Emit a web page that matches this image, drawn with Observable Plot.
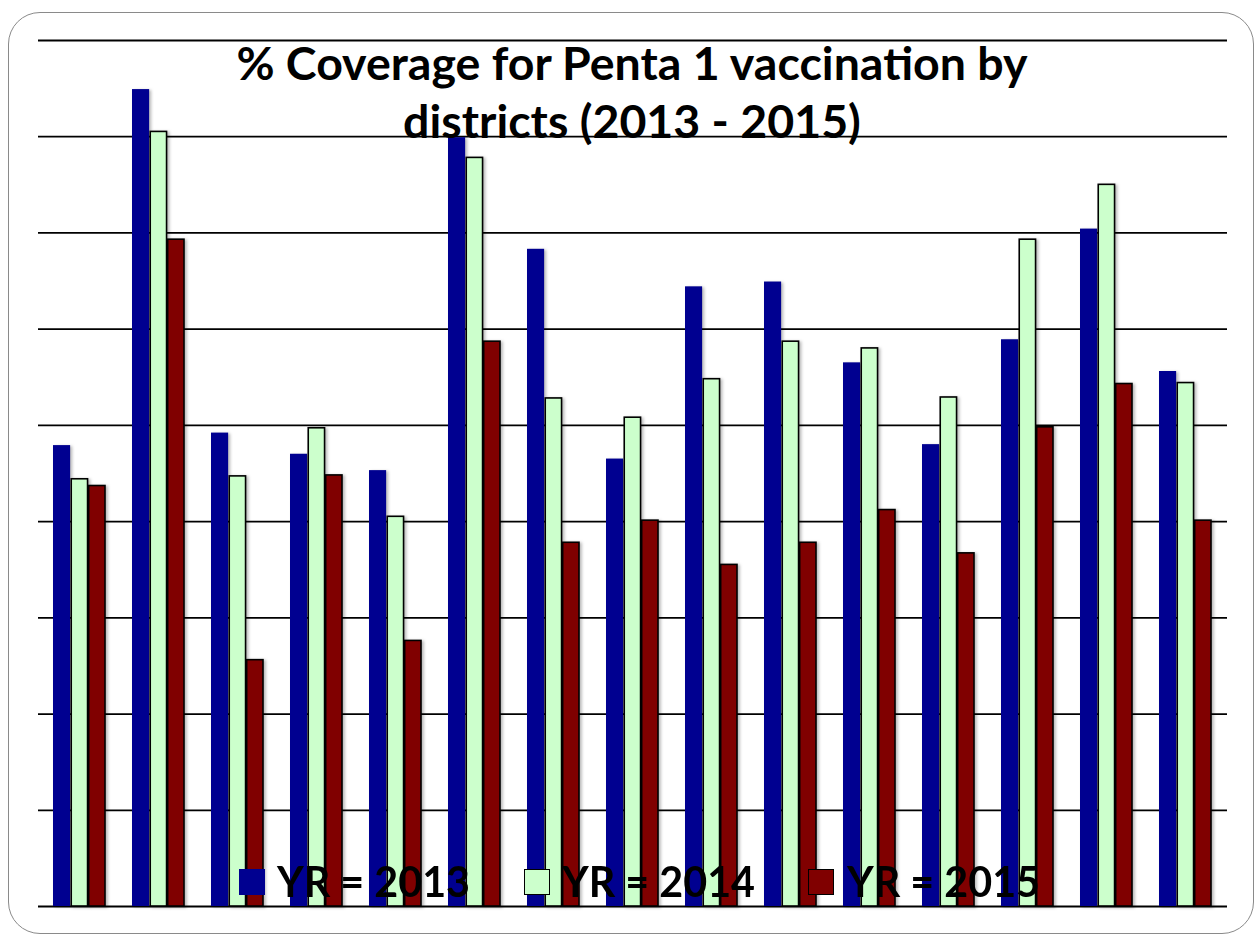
<!DOCTYPE html>
<html>
<head>
<meta charset="utf-8">
<script src="https://cdn.jsdelivr.net/npm/d3@7"></script>
<script src="https://cdn.jsdelivr.net/npm/@observablehq/plot@0.6"></script>
<style>
  body { margin: 0; background: #fff; }
  #wrap { position: relative; width: 1256px; height: 936px; overflow: hidden; font-family: Lato, "Open Sans", sans-serif; }
  #chart { position: absolute; left: 0; top: 0; }
  #frame { position: absolute; left: 8px; top: 12px; width: 1246px; height: 922px; box-sizing: border-box;
           border: 1.5px solid #8a8a8a; border-radius: 32px; pointer-events: none; }
  #title { position: absolute; left: 0; top: 33px; width: 1264px; text-align: center; font-weight: 700;
           font-size: 46.5px; line-height: 58px; color: #000; }
  .lg-sw { position: absolute; box-sizing: border-box; }
  .lg-tx { position: absolute; font-weight: 700; font-size: 42px; line-height: 50px; color: #000;
           white-space: nowrap; transform-origin: 0 0; }
</style>
</head>
<body>
<div id="wrap">
  <div id="chart"></div>
  <div id="title">% Coverage for Penta 1 vaccination by<br>districts (2013 - 2015)</div>
  <div id="legend"></div>
  <div id="frame"></div>
</div>
<script>
// Penta 1 coverage (%) per district, one array per year
const districts = ["D01","D02","D03","D04","D05","D06","D07","D08","D09","D10","D11","D12","D13","D14","D15"];
const years = ["2013", "2014", "2015"];
const cov2013 = [47.9, 84.9, 49.2, 47.0, 45.3, 79.9, 68.3, 46.5, 64.4, 64.9, 56.5, 48.0, 58.9, 70.4, 55.6];
const cov2014 = [44.4, 80.5, 44.7, 49.7, 40.5, 77.8, 52.8, 50.8, 54.8, 58.7, 58.0, 52.9, 69.3, 75.0, 54.4];
const cov2015 = [43.7, 69.3, 25.6, 44.8, 27.6, 58.7, 37.8, 40.1, 35.5, 37.8, 41.2, 36.7, 49.8, 54.3, 40.1];
const gridTicks = [0, 10, 20, 30, 40, 50, 60, 70, 80, 90];

const colors = {"2013": "#000090", "2014": "#ccffcc", "2015": "#800000"};

const W = 1256, H = 936;
const mL = 38, mR = 29, mT = 40, mB = 30;
const padIn = 0.34, padOut = 0.17;

// width of one district group, split into three equal bars
const step = (W - mL - mR) / (districts.length - padIn + 2 * padOut);
const bw = step * (1 - padIn);
const third = bw / 3;

const rows = (vals) => districts.map((d, i) => ({district: d, value: vals[i]}));

const chart = Plot.plot({
  width: W,
  height: H,
  marginLeft: mL,
  marginRight: mR,
  marginTop: mT,
  marginBottom: mB,
  style: {background: "transparent"},
  x: {type: "band", domain: districts, paddingInner: padIn, paddingOuter: padOut, axis: null},
  y: {domain: [0, 90], axis: null},
  marks: [
    Plot.ruleY(gridTicks, {stroke: "#000", strokeWidth: 1.8}),
    Plot.barY(rows(cov2013), {x: "district", y: "value", fill: colors["2013"],
      insetLeft: 0, insetRight: 2 * third}),
    Plot.barY(rows(cov2014), {x: "district", y: "value", fill: colors["2014"], stroke: "#000", strokeWidth: 1.6,
      insetLeft: third + 0.8, insetRight: third}),
    Plot.barY(rows(cov2015), {x: "district", y: "value", fill: colors["2015"], stroke: "#000", strokeWidth: 1.6,
      insetLeft: 2 * third + 0.8, insetRight: 0})
  ]
});
chart.querySelectorAll('g[aria-label="bar"]').forEach(g => {
  g.style.filter = "drop-shadow(2px 1px 1.5px rgba(0,0,0,0.28))";
});
document.getElementById("chart").appendChild(chart);

// legend drawn over the lower part of the plot
const legend = document.getElementById("legend");
const legendLayout = [
  {sw: 239, tx: 277, tw: 193},
  {sw: 524, tx: 562, tw: 193},
  {sw: 808, tx: 847, tw: 193}
];
years.forEach((yr, i) => {
  const L = legendLayout[i];
  const sw = document.createElement("div");
  sw.className = "lg-sw";
  sw.style.left = L.sw + "px";
  sw.style.top = "869px";
  sw.style.width = "26px";
  sw.style.height = "26px";
  sw.style.background = colors[yr];
  sw.style.border = yr === "2013" ? "none" : "1.6px solid #000";
  legend.appendChild(sw);

  const tx = document.createElement("div");
  tx.className = "lg-tx";
  tx.textContent = "YR = " + yr;
  tx.style.left = L.tx + "px";
  tx.style.top = "856px";
  legend.appendChild(tx);
  const w = tx.getBoundingClientRect().width;
  tx.style.transform = "scaleX(" + (L.tw / w) + ")";
});
</script>
</body>
</html>
